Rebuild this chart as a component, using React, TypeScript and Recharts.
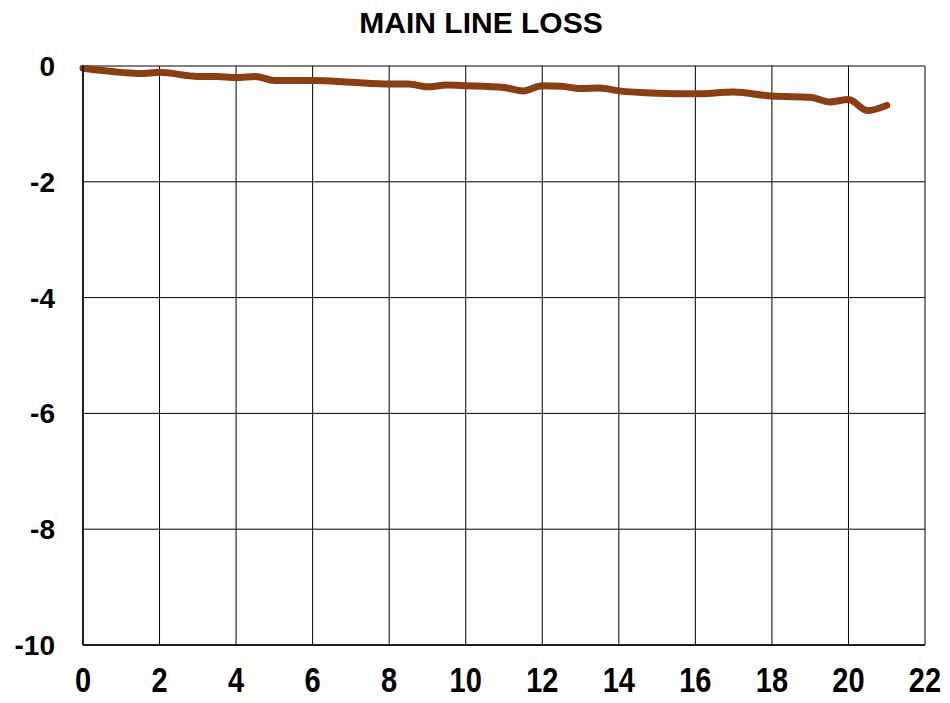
import React from 'react';
import { LineChart, Line, XAxis, YAxis, CartesianGrid } from 'recharts';

const distance = [0, 1, 1.5, 2, 3, 3.5, 4, 4.5, 5, 6, 7, 8, 8.5, 9, 9.5, 10, 11, 11.5, 12, 12.5, 13, 13.5, 14, 15, 16, 17, 18, 19, 19.5, 20, 20.5, 21];
const loss = [-0.04, -0.11, -0.13, -0.11, -0.18, -0.18, -0.2, -0.18, -0.25, -0.25, -0.28, -0.31, -0.31, -0.36, -0.33, -0.34, -0.37, -0.43, -0.34, -0.35, -0.39, -0.38, -0.43, -0.47, -0.48, -0.45, -0.52, -0.54, -0.62, -0.58, -0.77, -0.68];

const xTicks = [0, 2, 4, 6, 8, 10, 12, 14, 16, 18, 20, 22];
const yTicks = [-10, -8, -6, -4, -2, 0];

const data = distance.map((d, i) => ({ distance: d, loss: loss[i] }));

const FONT = 'Arial, "Liberation Sans", Helvetica, sans-serif';

function XTick(props: any) {
  const { x, y, payload } = props;
  return (
    <g transform={`translate(${x},${y})`}>
      <text
        textAnchor="middle"
        dy="0.71em"
        transform="scale(1,1.2)"
        fontFamily={FONT}
        fontWeight="bold"
        fontSize={29}
        fill="#000"
      >
        {payload.value}
      </text>
    </g>
  );
}

export default function App() {
  return (
    <div style={{ marginLeft: -8, marginTop: -8, width: 950, height: 703, position: 'relative', background: '#fff' }}>
      <div
        style={{
          position: 'absolute',
          left: 0,
          width: 950,
          top: 6,
          textAlign: 'center',
          paddingLeft: 12,
          boxSizing: 'border-box',
          fontFamily: FONT,
          fontWeight: 'bold',
          fontSize: 30,
          lineHeight: '34px',
        }}
      >
        MAIN LINE LOSS
      </div>
      <LineChart width={950} height={703} data={data} margin={{ top: 66, right: 25, left: 0, bottom: 0 }}>
        <CartesianGrid stroke="#000" strokeWidth={1} />
        <XAxis
          dataKey="distance"
          type="number"
          domain={[0, 22]}
          ticks={xTicks}
          interval={0}
          height={58}
          tickSize={0}
          tickMargin={22}
          tickLine={false}
          axisLine={{ stroke: '#000', strokeWidth: 1.5 }}
          tick={<XTick />}
        />
        <YAxis
          type="number"
          domain={[-10, 0]}
          ticks={yTicks}
          interval={0}
          width={83}
          tickSize={0}
          tickMargin={28}
          tickLine={false}
          axisLine={{ stroke: '#000', strokeWidth: 1.5 }}
          tick={{ fill: '#000', fontSize: 28, fontWeight: 'bold', fontFamily: FONT }}
        />
        <Line
          type="monotone"
          dataKey="loss"
          stroke="#8B3E12"
          strokeWidth={7}
          dot={false}
          isAnimationActive={false}
          strokeLinecap="round"
        />
      </LineChart>
    </div>
  );
}
